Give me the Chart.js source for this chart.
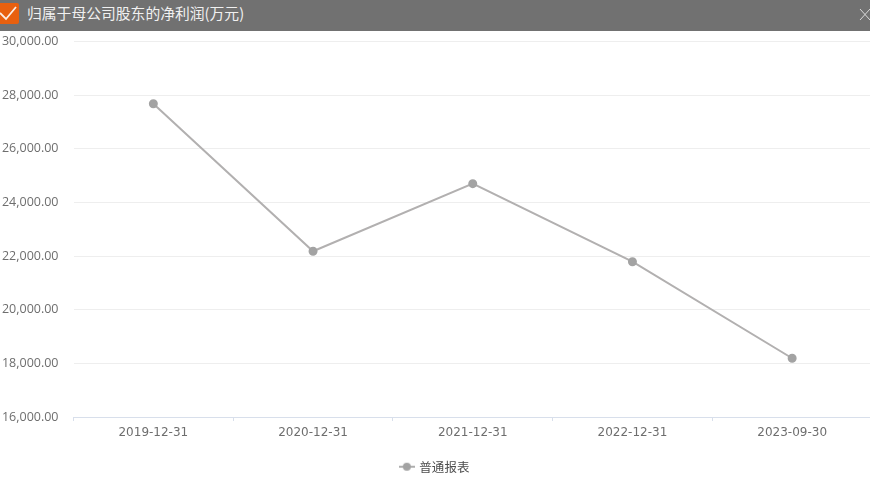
<!DOCTYPE html>
<html>
<head>
<meta charset="utf-8">
<script src="https://cdn.jsdelivr.net/npm/chart.js@4"></script>
<style>
  html, body { margin: 0; padding: 0; background: #fff; overflow: hidden; width: 870px; height: 492px; }
  #chart { position: absolute; left: -2px; top: 0; }
  .head { position: absolute; left: 0; top: 0; width: 870px; height: 31px; background: #717171; }
  .head svg { position: absolute; }
  .head span { position: absolute; left: 27px; top: 2px; color: #f0f0f0; font: 14.8px/22px "Noto Sans CJK SC", sans-serif; }
</style>
</head>
<body>
<canvas id="chart" width="874" height="492"></canvas>
<div class="head">
  <svg style="left:0;top:3px" width="20" height="21">
    <rect x="-3" y="0" width="22" height="21" rx="2" fill="#e8600f"></rect>
    <path d="M0 10 L6 16 L16 4" stroke="#fbeee6" stroke-width="1.8" fill="none"></path>
  </svg>
  <span>归属于母公司股东的净利润(万元)</span>
  <svg style="left:859px;top:8px" width="11" height="13">
    <path d="M1 1 L11 12 M11 1 L1 12" stroke="#d8d8d8" stroke-width="1" fill="none"></path>
  </svg>
</div>
<script>
const categories = ['2019-12-31', '2020-12-31', '2021-12-31', '2022-12-31', '2023-09-30'];
const seriesName = '普通报表';
const netProfit = [27680, 22180, 24700, 21790, 18190];

const yMin = 16000;
const yMax = 30000;
const yStep = 2000;

const cjkFont = '"Noto Sans CJK SC", sans-serif';
const dateFont = '"DejaVu Sans", sans-serif';
const valueFont = '"Open Sans", sans-serif';

// legend marker: short line with a dot on it
function legendMarker() {
  const c = document.createElement('canvas');
  c.width = 16;
  c.height = 10;
  const g = c.getContext('2d');
  g.strokeStyle = '#aeaeae';
  g.lineWidth = 2;
  g.beginPath();
  g.moveTo(0, 5);
  g.lineTo(16, 5);
  g.stroke();
  g.fillStyle = '#a3a3a3';
  g.beginPath();
  g.arc(8, 5, 4, 0, Math.PI * 2);
  g.fill();
  return c;
}

new Chart(document.getElementById('chart'), {
  type: 'line',
  data: {
    labels: categories,
    datasets: [{
      label: seriesName,
      data: netProfit,
      borderColor: '#b2b0b0',
      borderWidth: 2,
      backgroundColor: '#a3a3a3',
      pointBackgroundColor: '#a3a3a3',
      pointBorderColor: '#a3a3a3',
      pointRadius: 3.5,
      tension: 0,
      fill: false
    }]
  },
  options: {
    responsive: false,
    animation: false,
    layout: { autoPadding: false, padding: { top: 41.5, bottom: 9, left: 0, right: 0 } },
    plugins: {
      tooltip: { enabled: false },
      legend: {
        position: 'bottom',
        labels: {
          usePointStyle: true,
          padding: 10,
          color: '#4d4d4d',
          font: { family: cjkFont, size: 12.5 },
          generateLabels: chart => [{
            text: seriesName,
            pointStyle: legendMarker(),
            fontColor: '#4d4d4d',
            datasetIndex: 0
          }]
        }
      }
    },
    scales: {
      x: {
        offset: true,
        grid: { offset: true, drawOnChartArea: false, color: '#d8dfeb', tickLength: 4 },
        border: { color: '#d8dfeb', width: 1 },
        ticks: { color: '#6e6e6e', padding: 5, maxRotation: 0, font: { family: dateFont, size: 12 } },
        afterFit: scale => { scale.height = 33.5; }
      },
      y: {
        min: yMin,
        max: yMax,
        grid: { color: '#eeeeee', drawTicks: false },
        border: { display: false },
        ticks: {
          stepSize: yStep,
          color: '#6e6e6e',
          padding: 15,
          font: { family: valueFont, size: 12.5 },
          callback: v => v.toLocaleString('en-US', { minimumFractionDigits: 2, maximumFractionDigits: 2 })
        },
        afterFit: scale => { scale.width = 75.5; }
      }
    }
  }
});
</script>
</body>
</html>
